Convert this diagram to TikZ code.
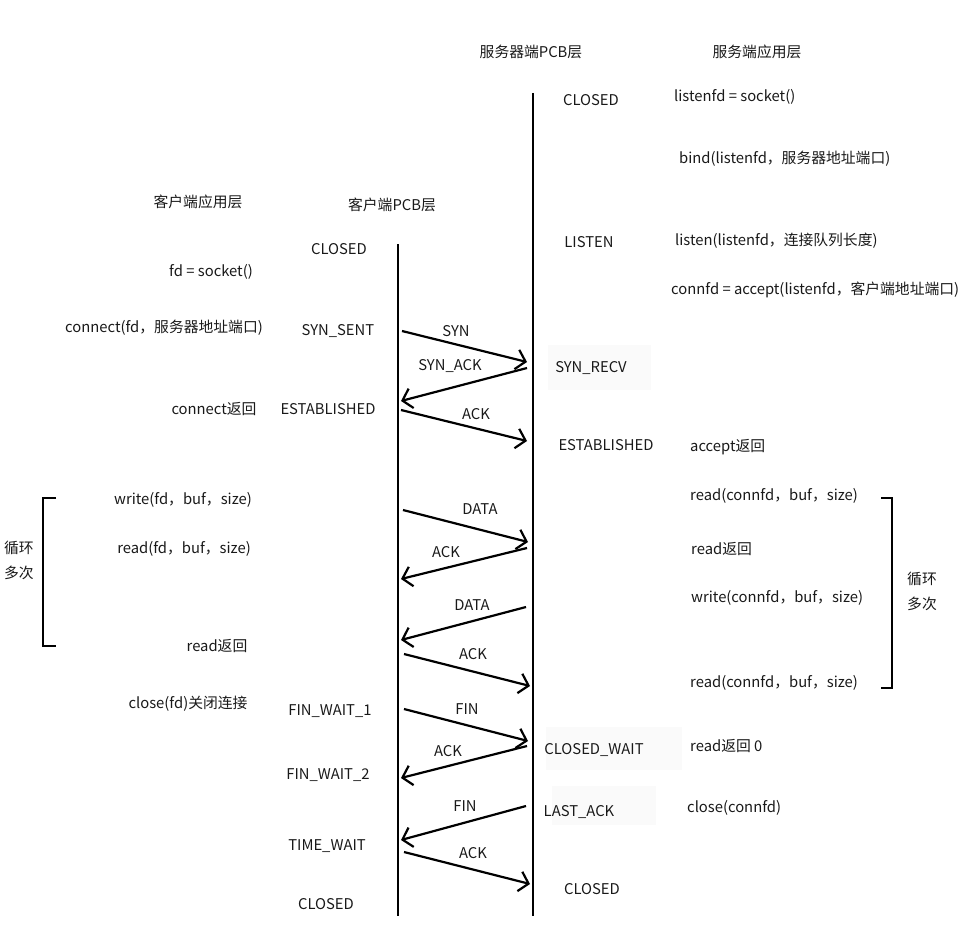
\documentclass[tikz,border=0pt]{standalone}
\usepackage{fontspec}
\setmainfont{Noto Sans CJK SC}
\usetikzlibrary{arrows.meta}
\begin{document}
\begin{tikzpicture}[x=1pt,y=-1pt,
  txt/.style={font=\fontsize{14.8}{17}\selectfont, inner sep=0pt, text=black!90},
  lt/.style={txt, anchor=west},
  lifeline/.style={line width=2.6pt, black},
  msg/.style={line width=2.2pt, -{Straight Barb[length=9pt,width=20pt,line width=2.2pt]}},
  lbl/.style={txt},
  bracketline/.style={line width=2.6pt, black},
  faint/.style={fill=black!2, draw=none}
]
\useasboundingbox (0,0) rectangle (964,939);
% faint boxes
\fill[faint] (548,345) rectangle (651,390);
\fill[faint] (546,727) rectangle (682,770);
\fill[faint] (552,786) rectangle (656,825);

% lifelines
\coordinate (ctop) at (398,244);
\coordinate (cbot) at (398,916);
\coordinate (stop) at (533,93);
\coordinate (sbot) at (533,916);
\draw[lifeline] (ctop) -- (cbot);
\draw[lifeline] (stop) -- (sbot);

% headers
\node[txt] (hsp) at (531,52) {服务器端PCB层};
\node[txt] (hsa) at (757,52) {服务端应用层};
\node[txt] (hca) at (198,202) {客户端应用层};
\node[txt] (hcp) at (392,205) {客户端PCB层};

% server states
\node[txt] (sclosed) at (591,100) {CLOSED};
\node[txt] (slisten) at (589,242) {LISTEN};
\node[txt] (ssynrecv) at (591,368) {SYN\_RECV};
\node[txt] (sest) at (606,445) {ESTABLISHED};
\node[txt] (sclosewait) at (594,750) {CLOSED\_WAIT};
\node[txt] (slastack) at (579,812) {LAST\_ACK};
\node[txt] (sclosed2) at (592,889) {CLOSED};

% server app
\node[lt] (a1) at (674,97) {listenfd = socket()};
\node[lt] (a2) at (679,159) {bind(listenfd，服务器地址端口)};
\node[lt] (a3) at (675,241) {listen(listenfd，连接队列长度)};
\node[lt] (a4) at (671,290) {connfd = accept(listenfd，客户端地址端口)};
\node[lt] (a5) at (690,447) {accept返回};
\node[lt] (a6) at (690,496) {read(connfd，buf，size)};
\node[lt] (a7) at (691,549) {read返回};
\node[lt] (a8) at (691,598) {write(connfd，buf，size)};
\node[lt] (a9) at (690,683) {read(connfd，buf，size)};
\node[lt] (a10) at (690,746) {read返回 0};
\node[lt] (a11) at (687,808) {close(connfd)};

% client states
\node[txt] (cclosed) at (339,249) {CLOSED};
\node[txt] (csynsent) at (338,331) {SYN\_SENT};
\node[txt] (cest) at (328,409) {ESTABLISHED};
\node[txt] (cfw1) at (330,711) {FIN\_WAIT\_1};
\node[txt] (cfw2) at (328,775) {FIN\_WAIT\_2};
\node[txt] (ctw) at (327,846) {TIME\_WAIT};
\node[txt] (cclosed2) at (326,904) {CLOSED};

% client app
\node[txt] (b1) at (211,272) {fd = socket()};
\node[txt] (b2) at (164,328) {connect(fd，服务器地址端口)};
\node[txt] (b3) at (214,409) {connect返回};
\node[txt] (b4) at (183,500) {write(fd，buf，size)};
\node[txt] (b5) at (184,549) {read(fd，buf，size)};
\node[txt] (b6) at (217,646) {read返回};
\node[txt] (b7) at (188,704) {close(fd)关闭连接};

% loop labels
\node[txt] (loopl1) at (19,548) {循环};
\node[txt] (loopl2) at (19,573) {多次};
\node[txt] (loopr1) at (922,579) {循环};
\node[txt] (loopr2) at (922,604) {多次};

% brackets
\coordinate (lb1) at (56,498); \coordinate (lb2) at (43,498);
\coordinate (lb3) at (43,646); \coordinate (lb4) at (56,646);
\draw[bracketline] (lb1) -- (lb2) -- (lb3) -- (lb4);
\coordinate (rb1) at (881,498); \coordinate (rb2) at (892,498);
\coordinate (rb3) at (892,688); \coordinate (rb4) at (881,688);
\draw[bracketline] (rb1) -- (rb2) -- (rb3) -- (rb4);

% message endpoints
\coordinate (m1a) at (402,331); \coordinate (m1b) at (527,362);
\coordinate (m2a) at (527,368); \coordinate (m2b) at (401,401);
\coordinate (m3a) at (401,410); \coordinate (m3b) at (527,441);
\coordinate (m4a) at (403,510); \coordinate (m4b) at (528,542);
\coordinate (m5a) at (527,548); \coordinate (m5b) at (401,579);
\coordinate (m6a) at (526,607); \coordinate (m6b) at (401,640);
\coordinate (m7a) at (404,654); \coordinate (m7b) at (530,686);
\coordinate (m8a) at (404,709); \coordinate (m8b) at (528,741);
\coordinate (m9a) at (527,746); \coordinate (m9b) at (401,778);
\coordinate (m10a) at (526,806); \coordinate (m10b) at (401,840);
\coordinate (m11a) at (404,852); \coordinate (m11b) at (530,884);
\foreach \i in {1,...,11} {\draw[msg] (m\i a) -- (m\i b);}

% message labels
\node[lbl] (l1) at (456,331) {SYN};
\node[lbl] (l2) at (450,366) {SYN\_ACK};
\node[lbl] (l3) at (476,414) {ACK};
\node[lbl] (l4) at (480,509) {DATA};
\node[lbl] (l5) at (446,552) {ACK};
\node[lbl] (l6) at (472,605) {DATA};
\node[lbl] (l7) at (473,654) {ACK};
\node[lbl] (l8) at (467,709) {FIN};
\node[lbl] (l9) at (448,751) {ACK};
\node[lbl] (l10) at (465,806) {FIN};
\node[lbl] (l11) at (473,853) {ACK};
\end{tikzpicture}
\end{document}
